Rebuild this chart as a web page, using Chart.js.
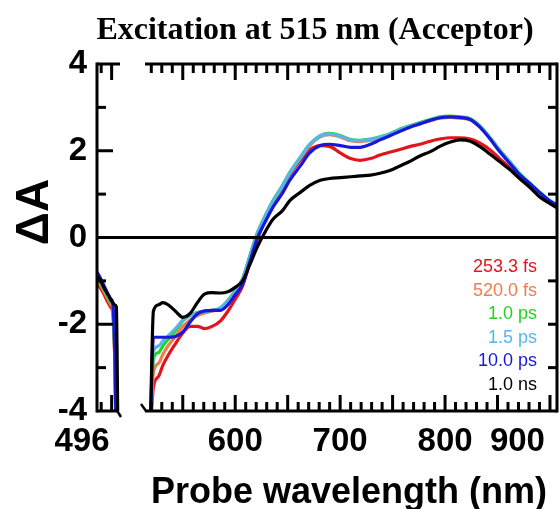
<!DOCTYPE html>
<html><head><meta charset="utf-8">
<script src="https://cdn.jsdelivr.net/npm/chart.js@4/dist/chart.umd.min.js"></script>
<style>
html,body{margin:0;padding:0;background:#fff;}
#wrap{position:relative;width:560px;height:509px;overflow:hidden;background:#fff;}
canvas{position:absolute;top:0;}
#cA{left:0;} #cB{left:125px;}
.t{position:absolute;white-space:nowrap;text-align:center;color:#000;}
#title{left:15px;width:600px;top:10px;height:36px;line-height:36px;font:bold 32px "Liberation Serif","Times New Roman",serif;}
#xlab{left:149px;width:400px;top:470px;height:40px;line-height:40px;font:bold 36px "Liberation Sans",Arial,sans-serif;}
#ylab{left:-20px;top:187px;width:100px;height:50px;line-height:50px;font:bold 46px "Liberation Sans",Arial,sans-serif;transform:rotate(-90deg);}
</style></head>
<body><div id="wrap">
<canvas id="cA" width="125" height="509"></canvas>
<canvas id="cB" width="435" height="509"></canvas>
<div class="t" id="title">Excitation at 515 nm (Acceptor)</div>
<div class="t" id="xlab">Probe wavelength (nm)</div>
<div class="t" id="ylab">ΔA</div>
</div>
<script>
// ---- data ----
const seriesLabels = ['253.3 fs','520.0 fs','1.0 ps','1.5 ps','10.0 ps','1.0 ns'];
const seriesColors = ['#e3141c','#f07c4c','#22d322','#55b6ee','#1818d8','#000000'];
const yTicks = [-4,-2,0,2,4];
const xTickLabelsLeft = [496];
const xTickLabelsMain = [600,700,800,900];
const xMinorTicksLeft = [500,510];
const xMinorTicksMain = [520,530,540,550,560,570,580,590,600,610,620,630,640,650,660,670,680,690,700,710,720,730,740,750,760,770,780,790,800,810,820,830,840,850,860,870,880,890,900];

// left (short) segment of the broken axis
const leftWavelengths = [496,499,502.5,506.5,509.5,511,513,514.5,516];
const leftRed    = [-1.05,-1.15,-1.3,-1.5,-1.62,-1.72,-2.8,-4.5,-4.5];
const leftOrange = [-0.98,-1.08,-1.24,-1.43,-1.56,-1.64,-2.75,-4.5,-4.5];
const leftGreen  = [-0.92,-1.02,-1.18,-1.38,-1.5,-1.58,-2.7,-4.5,-4.5];
const leftCyan   = [-0.88,-0.98,-1.14,-1.34,-1.47,-1.55,-2.65,-4.5,-4.5];
const leftBlue   = [-0.8,-0.92,-1.1,-1.3,-1.42,-1.5,-2.6,-4.5,-4.5];
const leftBlack  = [-0.88,-0.98,-1.15,-1.32,-1.45,-1.5,-1.55,-1.6,-4.5];

// main segment
const mainWavelengths = [519,522,527,531,536,543,550,557,564,571,578,586,593,600,607,614,621,629,636,645,652,662,671,681,690,700,710,719,729,738,748,757,767,776,786,795,805,814,824,833,843,852,862,871,881,890,900,907];
const mainRed    = [-4.5,-3.45,-3.2,-2.95,-2.72,-2.45,-2.2,-2.05,-2.05,-2.1,-2.05,-1.92,-1.7,-1.42,-1.12,-0.58,-0.05,0.42,0.8,1.15,1.45,1.78,2.02,2.12,2.1,1.95,1.82,1.78,1.82,1.9,1.97,2.03,2.1,2.15,2.22,2.27,2.3,2.3,2.27,2.18,2.02,1.82,1.6,1.38,1.16,0.95,0.79,0.7];
const mainOrange = [-4.5,-3.12,-2.9,-2.7,-2.5,-2.28,-2.05,-1.9,-1.8,-1.74,-1.7,-1.64,-1.47,-1.24,-0.97,-0.44,0.08,0.5,0.83,1.18,1.48,1.83,2.12,2.32,2.37,2.32,2.23,2.21,2.24,2.29,2.37,2.47,2.55,2.62,2.69,2.75,2.77,2.75,2.71,2.55,2.28,2.0,1.72,1.46,1.23,1.03,0.83,0.73];
const mainGreen  = [-4.5,-2.8,-2.65,-2.5,-2.35,-2.15,-1.92,-1.8,-1.73,-1.7,-1.68,-1.62,-1.45,-1.22,-0.95,-0.42,0.1,0.52,0.85,1.2,1.5,1.85,2.15,2.35,2.4,2.35,2.26,2.24,2.27,2.32,2.4,2.5,2.58,2.65,2.72,2.78,2.8,2.78,2.74,2.58,2.3,2.02,1.74,1.48,1.25,1.05,0.85,0.75];
const mainCyan   = [-4.5,-2.62,-2.5,-2.38,-2.27,-2.1,-1.9,-1.79,-1.73,-1.7,-1.68,-1.62,-1.46,-1.23,-0.96,-0.43,0.09,0.51,0.84,1.19,1.49,1.84,2.14,2.34,2.39,2.34,2.25,2.23,2.26,2.31,2.39,2.49,2.57,2.64,2.71,2.77,2.79,2.77,2.73,2.57,2.29,2.01,1.73,1.47,1.24,1.04,0.84,0.74];
const mainBlue   = [-4.5,-2.3,-2.3,-2.3,-2.3,-2.28,-2.18,-1.95,-1.76,-1.69,-1.68,-1.68,-1.55,-1.32,-1.08,-0.55,-0.02,0.38,0.7,1.02,1.32,1.65,1.95,2.12,2.15,2.12,2.08,2.08,2.15,2.25,2.35,2.45,2.55,2.62,2.7,2.76,2.78,2.77,2.72,2.55,2.27,1.98,1.7,1.45,1.24,1.04,0.84,0.74];
const mainBlack  = [-4.5,-1.7,-1.55,-1.5,-1.55,-1.7,-1.84,-1.75,-1.5,-1.3,-1.27,-1.28,-1.25,-1.15,-1.0,-0.62,-0.22,0.15,0.42,0.62,0.85,1.04,1.2,1.32,1.36,1.38,1.4,1.42,1.44,1.48,1.55,1.65,1.76,1.88,1.98,2.1,2.2,2.25,2.22,2.1,1.92,1.75,1.56,1.36,1.15,0.94,0.78,0.68];

const leftSeries = [leftRed,leftOrange,leftGreen,leftCyan,leftBlue,leftBlack];
const mainSeries = [mainRed,mainOrange,mainGreen,mainCyan,mainBlue,mainBlack];

const FONT = '"Liberation Sans", Arial, sans-serif';

function makeDatasets(xs, series){
  return series.map((vals,k)=>({
    label: seriesLabels[k],
    data: xs.map((x,i)=>({x:x,y:vals[i]})),
    borderColor: seriesColors[k],
    backgroundColor: seriesColors[k],
    borderWidth: 3.2,
    pointRadius: 0,
    fill: false,
    cubicInterpolationMode: 'monotone',
    clip: 0,
    order: series.length - 1 - k
  }));
}

function hbar(ctx,x1,x2,y){ctx.fillRect(Math.min(x1,x2),y-1.5,Math.abs(x2-x1),3);}
function vbar(ctx,x,y1,y2){ctx.fillRect(x-1.5,Math.min(y1,y2),3,Math.abs(y2-y1));}
function line(ctx,x1,y1,x2,y2){ctx.beginPath();ctx.moveTo(x1,y1);ctx.lineTo(x2,y2);ctx.stroke();}

const frameA = {
  id:'frameA',
  afterDraw(chart){
    const ctx=chart.ctx, a=chart.chartArea, xs=chart.scales.x, ys=chart.scales.y;
    ctx.save(); ctx.fillStyle='#000'; ctx.strokeStyle='#000';
    const y0=ys.getPixelForValue(0);
    hbar(ctx,a.left,chart.width,y0);
    vbar(ctx,a.left,a.top-1.5,a.bottom+1.5);
    hbar(ctx,a.left,a.right,a.top);
    hbar(ctx,a.left,a.right-3,a.bottom);
    for(let v=-3;v<=3;v++){ if(v===0) continue; const p=ys.getPixelForValue(v); hbar(ctx,a.left,a.left+(v%2===0?16:9),p); }
    for(const v of xMinorTicksLeft){ const p=xs.getPixelForValue(v); const L=(v===510?16:9);
      vbar(ctx,p,a.top,a.top+L); vbar(ctx,p,a.bottom,a.bottom-L); }
    ctx.lineWidth=2.5; line(ctx,a.right-4,a.bottom-2,a.right+1,a.bottom+6);
    ctx.font='bold 33px '+FONT; ctx.textAlign='center'; ctx.textBaseline='middle';
    for(const v of xTickLabelsLeft){ ctx.fillText(String(v), xs.getPixelForValue(v)-15, 442); }
    ctx.restore();
  }
};

const frameB = {
  id:'frameB',
  afterDraw(chart){
    const ctx=chart.ctx, a=chart.chartArea, xs=chart.scales.x, ys=chart.scales.y;
    ctx.save(); ctx.fillStyle='#000'; ctx.strokeStyle='#000';
    const y0=ys.getPixelForValue(0);
    hbar(ctx,0,a.right,y0);
    vbar(ctx,a.right,a.top-1.5,a.bottom+1.5);
    hbar(ctx,a.left,a.right,a.top);
    hbar(ctx,a.left,a.right,a.bottom);
    for(let v=-3;v<=3;v++){ if(v===0) continue; const p=ys.getPixelForValue(v); hbar(ctx,a.right,a.right-9,p); }
    for(const v of xMinorTicksMain){
      const p=xs.getPixelForValue(v);
      const L=(v%50===0?16:9);
      vbar(ctx,p,a.top,a.top+L);
      vbar(ctx,p,a.bottom,a.bottom-L);
    }
    ctx.lineWidth=2.5; line(ctx,a.left-4,a.bottom-7,a.left+1,a.bottom);
    ctx.font='bold 33px '+FONT; ctx.textBaseline='middle';
    for(const v of xTickLabelsMain){
      const p=xs.getPixelForValue(v);
      if(v===900){ ctx.textAlign='right'; ctx.fillText(String(v), p-5, 442); }
      else { ctx.textAlign='center'; ctx.fillText(String(v), p, 442); }
    }
    // legend
    ctx.font='18px '+FONT; ctx.textAlign='right';
    seriesLabels.forEach((s,k)=>{ ctx.fillStyle=seriesColors[k]; ctx.fillText(s, 412, 267+k*23.6); });
    ctx.restore();
  }
};

Chart.defaults.font.family = FONT;

new Chart(document.getElementById('cA'), {
  type:'line',
  data:{datasets: makeDatasets(leftWavelengths, leftSeries)},
  options:{
    responsive:false, animation:false, devicePixelRatio:1,
    layout:{padding:{left:0,right:5,top:64,bottom:98}},
    plugins:{legend:{display:false},tooltip:{enabled:false}},
    scales:{
      x:{type:'linear',min:496,max:518,display:false},
      y:{min:-4,max:4,position:'left',
         afterFit(s){ s.width=97; },
         afterBuildTicks(s){ s.ticks=yTicks.map(v=>({value:v})); },
         grid:{display:false,drawTicks:false}, border:{display:false},
         ticks:{color:'#000',padding:10,font:{size:33,weight:'bold',family:FONT}}}
    }
  },
  plugins:[frameA]
});

new Chart(document.getElementById('cB'), {
  type:'line',
  data:{datasets: makeDatasets(mainWavelengths, mainSeries)},
  options:{
    responsive:false, animation:false, devicePixelRatio:1,
    layout:{padding:{left:20,right:3,top:64,bottom:98}},
    plugins:{legend:{display:false},tooltip:{enabled:false}},
    scales:{
      x:{type:'linear',min:514,max:906.7,display:false},
      y:{min:-4,max:4,display:false}
    }
  },
  plugins:[frameB]
});
</script>
</body></html>
